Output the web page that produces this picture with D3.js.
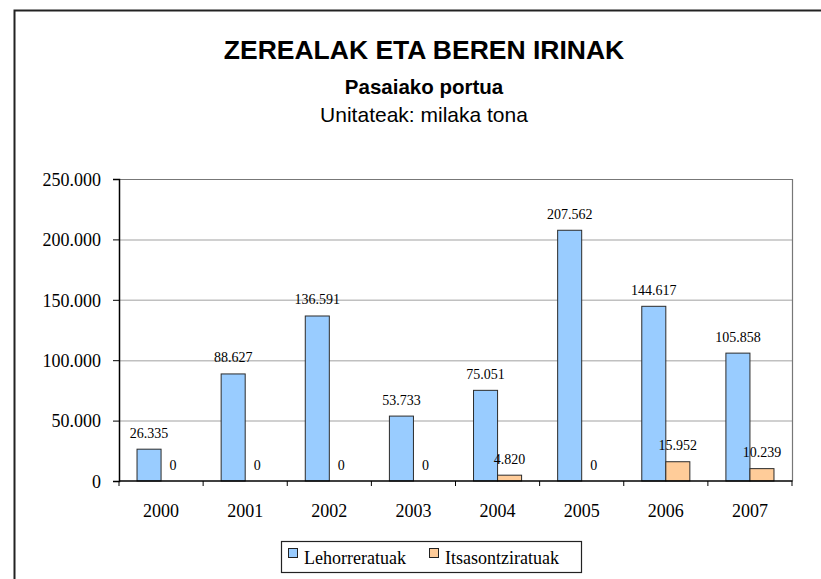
<!DOCTYPE html>
<html>
<head>
<meta charset="utf-8">
<script src="https://cdn.jsdelivr.net/npm/d3@7"></script>
<style>
  html, body { margin: 0; padding: 0; background: #fff; }
  svg { display: block; }
</style>
</head>
<body>
<svg id="chart" width="821" height="579"></svg>
<script>
// ---- Data ----
const categories = ["2000", "2001", "2002", "2003", "2004", "2005", "2006", "2007"];
const seriesNames = ["Lehorreratuak", "Itsasontziratuak"];
const lehorreratuak = [26335, 88627, 136591, 53733, 75051, 207562, 144617, 105858];
const itsasontziratuak = [0, 0, 0, 0, 4820, 0, 15952, 10239];
const yTicks = [0, 50000, 100000, 150000, 200000, 250000];
const seriesColors = ["#99CCFF", "#FFCC99"];
const titleText = "ZEREALAK ETA BEREN IRINAK";
const subtitleText = "Pasaiako portua";
const unitText = "Unitateak: milaka tona";

// ---- Setup ----
const svg = d3.select("#chart");
const serif = "'Liberation Serif', 'Times New Roman', serif";
const sans = "'Liberation Sans', Arial, sans-serif";
const locale = d3.formatLocale({ decimal: ",", thousands: ".", grouping: [3], currency: ["", ""] });
const fmt = locale.format(",d");

const plot = { left: 119, top: 179, right: 792, bottom: 481 };

// outer frame
svg.append("rect")
  .attr("x", 14.5).attr("y", 10.5)
  .attr("width", 830).attr("height", 600)
  .attr("fill", "#fff").attr("stroke", "#222").attr("stroke-width", 2);

// titles
const cx = 424;
svg.append("text").attr("x", cx).attr("y", 59).attr("text-anchor", "middle")
  .attr("font-family", sans).attr("font-weight", "bold").attr("font-size", 26.5)
  .text(titleText);
svg.append("text").attr("x", cx).attr("y", 94).attr("text-anchor", "middle")
  .attr("font-family", sans).attr("font-weight", "bold").attr("font-size", 20.5)
  .text(subtitleText);
svg.append("text").attr("x", cx).attr("y", 122).attr("text-anchor", "middle")
  .attr("font-family", sans).attr("font-size", 21)
  .text(unitText);

// scales
const x = d3.scaleBand().domain(categories).range([plot.left, plot.right]).paddingInner(0).paddingOuter(0);
const x1 = d3.scaleBand().domain(seriesNames).range([0, x.bandwidth()]).paddingInner(0).paddingOuter(0.75);
const y = d3.scaleLinear().domain([0, 250000]).range([plot.bottom, plot.top]);

// gridlines
svg.append("g").selectAll("line").data(yTicks.filter(t => t > 0 && t < 250000)).join("line")
  .attr("x1", plot.left).attr("x2", plot.right)
  .attr("y1", d => y(d) + 0.5).attr("y2", d => y(d) + 0.5)
  .attr("stroke", "#C0C0C0").attr("stroke-width", 1.5);

// plot frame (top & right)
svg.append("path")
  .attr("d", `M${plot.left},${plot.top + 0.5}H${plot.right + 0.5}V${plot.bottom}`)
  .attr("fill", "none").attr("stroke", "#777").attr("stroke-width", 1.2);

// bars
const data = categories.map((c, i) => ({ cat: c, vals: [lehorreratuak[i], itsasontziratuak[i]] }));
const groups = svg.append("g").selectAll("g").data(data).join("g")
  .attr("transform", d => `translate(${x(d.cat)},0)`);
groups.selectAll("rect").data(d => d.vals.map((v, k) => ({ v, k })).filter(o => o.v > 0)).join("rect")
  .attr("x", o => x1(seriesNames[o.k]))
  .attr("y", o => y(o.v))
  .attr("width", x1.bandwidth())
  .attr("height", o => y(0) - y(o.v))
  .attr("fill", o => seriesColors[o.k])
  .attr("stroke", "#2b2b2b").attr("stroke-width", 1);

// data labels
groups.selectAll("text").data(d => d.vals.map((v, k) => ({ v, k }))).join("text")
  .attr("x", o => x1(seriesNames[o.k]) + x1.bandwidth() / 2)
  .attr("y", o => y(o.v) - 11.5)
  .attr("text-anchor", "middle")
  .attr("font-family", serif).attr("font-size", 14).attr("fill", "#000")
  .text(o => fmt(o.v));

// y axis
const yAxis = d3.axisLeft(y).tickValues(yTicks).tickSize(6).tickPadding(12).tickFormat(fmt);
const gy = svg.append("g").attr("transform", `translate(${plot.left},0)`).call(yAxis);
gy.select(".domain").attr("stroke", "#000").attr("stroke-width", 1.5);
gy.selectAll(".tick line").attr("stroke", "#000");
gy.selectAll(".tick text").attr("font-family", serif).attr("font-size", 18).attr("fill", "#000").attr("dy", "0.35em");

// x axis
const gx = svg.append("g").attr("transform", `translate(0,${plot.bottom})`);
gx.append("line").attr("x1", plot.left).attr("x2", plot.right + 0.5).attr("y1", 0).attr("y2", 0)
  .attr("stroke", "#000").attr("stroke-width", 1.5);
const boundaries = categories.map(c => x(c)).concat([x(categories[categories.length - 1]) + x.bandwidth()]);
gx.selectAll("line.tk").data(boundaries).join("line").attr("class", "tk")
  .attr("x1", d => d).attr("x2", d => d).attr("y1", 0).attr("y2", 5)
  .attr("stroke", "#000").attr("stroke-width", 1);
gx.selectAll("text").data(categories).join("text")
  .attr("x", d => x(d) + x.bandwidth() / 2).attr("y", 36)
  .attr("text-anchor", "middle")
  .attr("font-family", serif).attr("font-size", 18).attr("fill", "#000")
  .text(d => d);

// legend
const lg = svg.append("g");
lg.append("rect").attr("x", 281.5).attr("y", 541.5).attr("width", 300).attr("height", 31)
  .attr("fill", "#fff").attr("stroke", "#222").attr("stroke-width", 1.2);
const legendX = [288, 429];
seriesNames.forEach((name, k) => {
  lg.append("rect").attr("x", legendX[k] + 0.5).attr("y", 548.5).attr("width", 9).attr("height", 9)
    .attr("fill", seriesColors[k]).attr("stroke", "#222").attr("stroke-width", 1);
  lg.append("text").attr("x", legendX[k] + 16).attr("y", 564)
    .attr("font-family", serif).attr("font-size", 18).attr("fill", "#000")
    .text(name);
});
</script>
</body>
</html>
